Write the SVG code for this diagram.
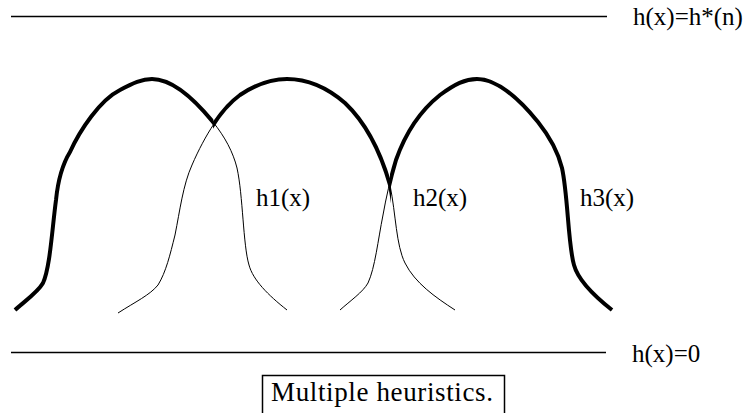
<svg xmlns="http://www.w3.org/2000/svg" width="743" height="413" viewBox="0 0 743 413">
<style>
text{font-family:"Liberation Serif","Times New Roman",serif;font-size:25px;fill:#000}
.thin{fill:none;stroke:#000;stroke-width:1}
.thick{fill:none;stroke:#000;stroke-width:4;stroke-linejoin:round}
.rule{stroke:#000;stroke-width:1.3}
</style>
<defs>
<path id="c1" d="M15,310 C25,301 38,292 43,283 C50,268 52,230 56,200 C58,180 62,165 70,152 C80,130 100,100 120,90 C133,83 142,79 152,79 C172,79 195,100 213,122 C225,137 233,152 237,168 C243,195 243,245 249,265 C253,280 268,295 287,310"/>
<path id="c2" d="M118,313 C135,302 150,295 158,285 C166,272 170,255 175,235 C180,210 183,185 192,165 C205,135 222,108 240,95 C255,85 270,79 287,79 C310,79 330,90 345,103 C365,122 380,150 390,185 C396,215 396,245 405,263 C415,283 435,297 455,310"/>
<path id="c3" d="M340,310 C350,301 363,292 368,283 C375,268 378,240 383,215 C386,198 390,180 396,160 C403,140 415,115 440,95 C455,84 465,79 477,79 C497,79 520,100 538,122 C550,137 558,152 562,168 C568,195 568,245 574,265 C578,280 593,295 612,310"/>
<clipPath id="clipA"><rect x="0" y="0" width="213.5" height="413"/></clipPath>
<clipPath id="clipB"><rect x="213" y="0" width="178" height="413"/></clipPath>
<clipPath id="clipC"><rect x="390" y="0" width="353" height="413"/></clipPath>
</defs>
<g id="levels">
<line class="rule" x1="11" y1="16.5" x2="607" y2="16.5"/>
<text x="633" y="25">h(x)=h*(n)</text>
<line class="rule" x1="11" y1="352.5" x2="606" y2="352.5"/>
<text x="632" y="362">h(x)=0</text>
</g>
<g id="curves">
<use href="#c1" class="thin"/>
<use href="#c2" class="thin"/>
<use href="#c3" class="thin"/>
</g>
<g id="envelope">
<use href="#c1" class="thick" clip-path="url(#clipA)"/>
<use href="#c2" class="thick" clip-path="url(#clipB)"/>
<use href="#c3" class="thick" clip-path="url(#clipC)"/>
</g>
<g id="labels">
<text x="256" y="206">h1(x)</text>
<text x="413" y="206">h2(x)</text>
<text x="580" y="206">h3(x)</text>
</g>
<g id="caption">
<rect x="262.5" y="375.5" width="242" height="50" fill="none" stroke="#000" stroke-width="1.5"/>
<text x="271" y="401" style="font-size:27px" textLength="222" lengthAdjust="spacing">Multiple heuristics.</text>
</g>
</svg>
